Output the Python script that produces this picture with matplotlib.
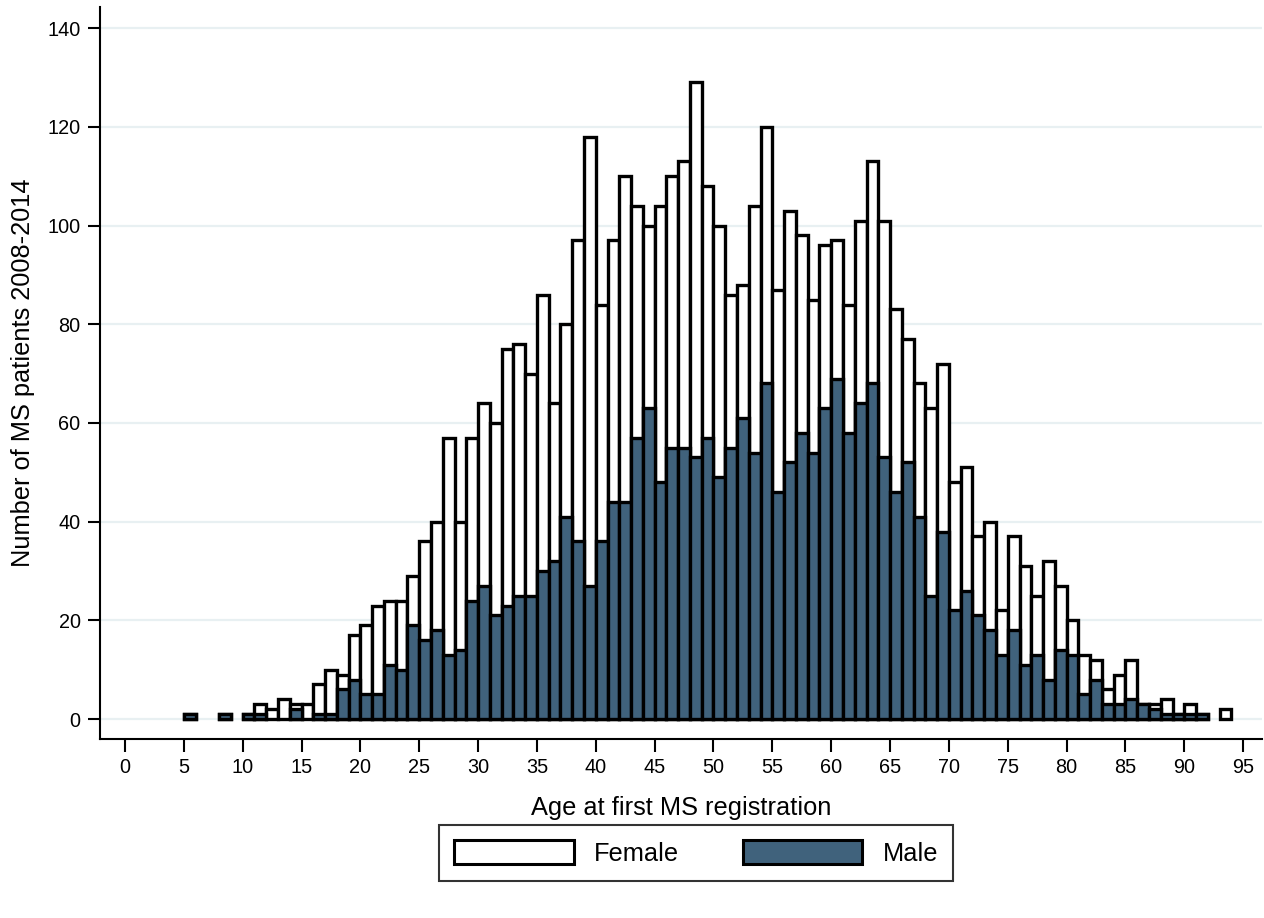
import numpy as np
import matplotlib.pyplot as plt
from matplotlib.patches import Patch

plt.rcParams['font.family'] = ['Liberation Sans', 'DejaVu Sans']

# Age in years (bins of width 1 starting at the age)
ages = list(range(5, 94))

female = [1, 0, 0, 1, 0, 1, 3, 2, 4, 3, 3, 7, 10, 9, 17, 19, 23, 24, 24, 29,
          36, 40, 57, 40, 57, 64, 60, 75, 76, 70, 86, 64, 80, 97, 118, 84, 97, 110, 104, 100,
          104, 110, 113, 129, 108, 100, 86, 88, 104, 120, 87, 103, 98, 85, 96, 97, 84, 101, 113, 101,
          83, 77, 68, 63, 72, 48, 51, 37, 40, 22, 37, 31, 25, 32, 27, 20, 13, 12, 6, 9,
          12, 3, 3, 4, 1, 3, 1, 0, 2]

male = [1, 0, 0, 1, 0, 1, 1, 0, 0, 2, 0, 1, 1, 6, 8, 5, 5, 11, 10, 19,
        16, 18, 13, 14, 24, 27, 21, 23, 25, 25, 30, 32, 41, 36, 27, 36, 44, 44, 57, 63,
        48, 55, 55, 53, 57, 49, 55, 61, 54, 68, 46, 52, 58, 54, 63, 69, 58, 64, 68, 53,
        46, 52, 41, 25, 38, 22, 26, 21, 18, 13, 18, 11, 13, 8, 14, 13, 5, 8, 3, 3,
        4, 3, 2, 1, 1, 1, 1, 0, 0]

male_color = '#40627c'
grid_color = '#e8f0f2'

fig = plt.figure(figsize=(12.64, 9.18), dpi=100)
ax = fig.add_axes([100 / 1264, 1 - 739 / 918, 1162 / 1264, 732 / 918])

x = np.array(ages)
f = np.array(female)
m = np.array(male)

ax.bar(x, f, width=1.0, align='edge', color='white',
       edgecolor=['black' if v > 0 else 'none' for v in f], linewidth=2.4, zorder=2)
ax.bar(x, m, width=1.0, align='edge', color=male_color,
       edgecolor=['black' if v > 0 else 'none' for v in m], linewidth=2.4, zorder=3)

ax.set_xlim(-2.12, 96.6)
ax.set_ylim(-4.05, 144.3)
ax.set_xticks(range(0, 100, 5))
ax.set_yticks(range(0, 141, 20))
ax.yaxis.grid(True, color=grid_color, linewidth=1.6, zorder=0)
ax.set_axisbelow(True)

for side in ['top', 'right']:
    ax.spines[side].set_visible(False)
for side in ['left', 'bottom']:
    ax.spines[side].set_linewidth(1.5)

ax.tick_params(axis='both', labelsize=14.3, length=9, width=1.5, pad=5)
ax.set_xlabel('Age at first MS registration', fontsize=18.3, labelpad=13)
ax.set_ylabel('Number of MS patients 2008-2014', fontsize=18.3, labelpad=9)

handles = [Patch(facecolor='white', edgecolor='black', linewidth=2.2),
           Patch(facecolor=male_color, edgecolor='black', linewidth=2.2)]
leg = fig.legend(handles, ['Female', 'Male'], loc='center', bbox_to_anchor=(696 / 1264, 1 - 853 / 918),
                 ncol=2, fontsize=18.3, frameon=True, fancybox=False, handlelength=4.7,
                 handleheight=1.1, handletextpad=0.8, columnspacing=2.5, borderpad=0.6)
leg.get_frame().set_edgecolor('black')
leg.get_frame().set_linewidth(1.5)

fig.savefig('out.png', dpi=100)
